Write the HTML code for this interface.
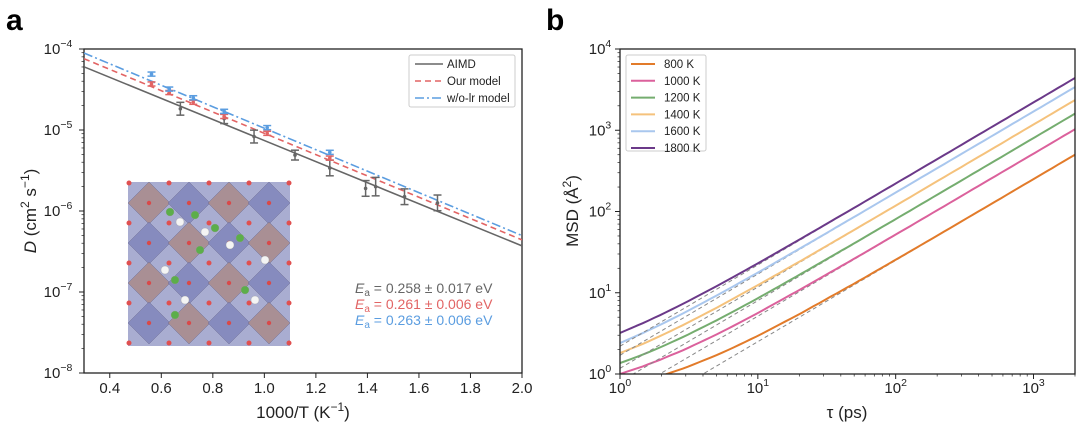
<!DOCTYPE html>
<html><head><meta charset="utf-8"><style>
body{margin:0;background:#fff;width:1080px;height:426px;overflow:hidden;font-family:"Liberation Sans",Arial,sans-serif}
svg text{font-family:"Liberation Sans",Arial,sans-serif}
</style></head><body>
<svg id="fig" width="1080" height="426" viewBox="0 0 1080 426" xmlns="http://www.w3.org/2000/svg">
<text x="6" y="30" font-size="30" font-weight="bold">a</text>
<text x="546" y="30" font-size="30" font-weight="bold">b</text>
<g id="pa"></g>
<g id="pb"></g>
</svg>
<script>
// ---------- Panel a data ----------
const aimdX=[0.674,0.844,0.96,1.119,1.254,1.393,1.432,1.544,1.672];
const aimdD=[1.83e-5,1.38e-5,8.3e-6,4.9e-6,3.4e-6,1.9e-6,2.0e-6,1.5e-6,1.26e-6];
const aimdErr=[0.2,0.15,0.2,0.15,0.25,0.25,0.3,0.25,0.25];
const modelX=[0.562,0.631,0.724,0.844,1.011,1.254];
const ourD=[3.7e-5,2.9e-5,2.2e-5,1.47e-5,9.1e-6,4.5e-6];
const wolrD=[4.9e-5,3.2e-5,2.5e-5,1.7e-5,1.07e-5,5.3e-6];
const fitNames=['AIMD','Our model','w/o-lr model'];
const fitLogD03=[-4.22,-4.12,-4.05];
const fitEa=[0.258,0.261,0.263];
const xTicksA=[0.4,0.6,0.8,1.0,1.2,1.4,1.6,1.8,2.0];
const yTicksA=[-8,-7,-6,-5,-4];
// ---------- Panel b data ----------
const tau=[1,1.5,2,3,5,7,10,20,50,100,200,500,1000,2000];
const tempLabels=['800 K','1000 K','1200 K','1400 K','1600 K','1800 K'];
const msd800=[0.70,0.83,0.95,1.20,1.70,2.20,2.95,5.45,12.95,25.45,50.45,125.45,250.45,500.45];
const msd1000=[1.00,1.26,1.52,2.03,3.06,4.09,5.64,10.8,26.2,52.0,103.5,258,515,1030];
const msd1200=[1.36,1.76,2.16,2.96,4.56,6.16,8.56,16.6,40.6,80.6,160.6,401,801,1601];
const msd1400=[1.81,2.39,2.98,4.16,6.5,8.9,12.4,24.1,59.4,118,236,588,1176,2351];
const msd1600=[2.4,3.25,4.1,5.8,9.2,12.6,17.7,34.7,85.7,171,341,851,1701,3401];
const msd1800=[3.2,4.3,5.4,7.6,12,16.4,23,45,111,221,441,1101,2201,4401];
const fitSlope=[0.25,0.515,0.8,1.175,1.7,2.2];
const xTicksB=[0,1,2,3];
const yTicksB=[0,1,2,3,4];

const NS='http://www.w3.org/2000/svg';
function mk(p,tag,attrs){const e=document.createElementNS(NS,tag);for(const k in attrs)e.setAttribute(k,attrs[k]);p.appendChild(e);return e;}
function pow(p,x,y,base,exp,anchor,fs){const t=mk(p,'text',{x:x,y:y,'font-size':fs,'text-anchor':anchor,fill:'#222'});t.textContent=base;const s=mk(t,'tspan',{dy:-7,'font-size':fs*0.7});s.textContent=exp;return t;}

// ---------- Panel a ----------
const pa=document.getElementById('pa');
const AL=84,AR=522,AT=49,AB=373;
const ax=v=>AL+(v-0.3)/(2.0-0.3)*(AR-AL);
const ay=d=>AB-(Math.log10(d)+8)/4*(AB-AT);
const ayl=l=>AB-(l+8)/4*(AB-AT);
// inset crystal
const ins=mk(pa,'g',{});


mk(ins,'rect',{x:128,y:182,width:162,height:164,fill:'#9498c6',opacity:0.8});
for(let r=0;r<4;r++)for(let c=0;c<4;c++){const cx=149+c*40,cy=203+r*40;const brown=(r+c)%2===0;
mk(ins,'polygon',{points:`${cx},${cy-21} ${cx+21},${cy} ${cx},${cy+21} ${cx-21},${cy}`,fill:brown?'#a98c8e':'#8388bd',stroke:'#6a6a90','stroke-width':0.5,opacity:0.9});}
for(let r=0;r<5;r++)for(let c=0;c<5;c++){mk(ins,'circle',{cx:129+c*40,cy:183+r*40,r:2.5,fill:'#e05050'});}
for(let r=0;r<4;r++)for(let c=0;c<4;c++){mk(ins,'circle',{cx:149+c*40,cy:203+r*40,r:2.2,fill:'#d84a4a'});}
[[170,212],[180,222],[195,215],[205,232],[215,228],[230,245],[240,238],[165,270],[175,280],[185,300],[245,290],[255,300],[175,315],[265,260],[200,250]].forEach((p,i)=>{mk(ins,'circle',{cx:p[0],cy:p[1],r:4,fill:i%2?'#f4f4f4':'#5cae4a',stroke:'#999','stroke-width':0.3});});
// frame
mk(pa,'rect',{x:AL,y:AT,width:AR-AL,height:AB-AT,fill:'none',stroke:'#222','stroke-width':1.3});
yTicksA.forEach(e=>{const y=ayl(e);mk(pa,'line',{x1:AL-5,x2:AL,y1:y,y2:y,stroke:'#222'});pow(pa,AL-26,y+5,'10','−'+(-e),'middle',15);
if(e<-4)for(let m=2;m<10;m++){const yy=ayl(e+Math.log10(m));mk(pa,'line',{x1:AL-2.5,x2:AL,y1:yy,y2:yy,stroke:'#222','stroke-width':0.7});}});
xTicksA.forEach(v=>{const x=ax(v);mk(pa,'line',{x1:x,x2:x,y1:AB,y2:AB+5,stroke:'#222'});const t=mk(pa,'text',{x:x,y:393,'font-size':15,'text-anchor':'middle',fill:'#222'});t.textContent=v.toFixed(1);});
const xtA=mk(pa,'text',{x:303,y:418,'font-size':17,'text-anchor':'middle',fill:'#222'});xtA.textContent='1000/T (K';const s1=mk(xtA,'tspan',{dy:-7,'font-size':12});s1.textContent='−1';const s2=mk(xtA,'tspan',{dy:7});s2.textContent=')';

const ytA=mk(pa,'text',{x:0,y:0,'font-size':17,'text-anchor':'middle',fill:'#222',transform:'translate(36,211) rotate(-90)'});

const tD=mk(ytA,'tspan',{'font-style':'italic'});tD.textContent='D';const tr=mk(ytA,'tspan',{});tr.textContent=' (cm';const t2=mk(ytA,'tspan',{dy:-7,'font-size':12});t2.textContent='2';const t3=mk(ytA,'tspan',{dy:7});t3.textContent=' s';const t4=mk(ytA,'tspan',{dy:-7,'font-size':12});t4.textContent='−1';const t5=mk(ytA,'tspan',{dy:7});t5.textContent=')';
const fitCol=['#666','#e26464','#5b9de0'];const fitDash=['none','6,4','9,3,2,3'];
const clipA=mk(pa,'clipPath',{id:'ca'});mk(clipA,'rect',{x:AL,y:AT,width:AR-AL,height:AB-AT});
fitLogD03.forEach((l0,i)=>{const slope=fitEa[i]/(8.617e-5*1000*Math.LN10);const l1=l0-slope*(2.0-0.3);
const ln=mk(pa,'line',{x1:ax(0.3),y1:ayl(l0),x2:ax(2.0),y2:ayl(l1),stroke:fitCol[i],'stroke-width':1.6,'stroke-dasharray':fitDash[i],'clip-path':'url(#ca)'});

});
function errPts(xs,ds,errs,col,name){xs.forEach((x,i)=>{const g=mk(pa,'g',{});


const e=errs?errs[i]:0.06;const X=ax(x),y1=ay(ds[i]*(1+e)),y2=ay(ds[i]/(1+e));
mk(g,'line',{x1:X,x2:X,y1:y1,y2:y2,stroke:col,'stroke-width':1.5});mk(g,'line',{x1:X-4,x2:X+4,y1:y1,y2:y1,stroke:col,'stroke-width':1.5});mk(g,'line',{x1:X-4,x2:X+4,y1:y2,y2:y2,stroke:col,'stroke-width':1.5});mk(g,'circle',{cx:X,cy:ay(ds[i]),r:1.8,fill:col});});}
errPts(aimdX,aimdD,aimdErr,'#666','aimd-point');
errPts(modelX,ourD,null,'#e26464','our-model-point');
errPts(modelX,wolrD,null,'#5b9de0','wolr-model-point');
const lgA=mk(pa,'g',{});


mk(lgA,'rect',{x:409,y:55,width:106,height:52,fill:'#fff',stroke:'#ccc',rx:2});
fitNames.forEach((n,i)=>{const y=64+i*17;mk(lgA,'line',{x1:415,x2:443,y1:y,y2:y,stroke:fitCol[i],'stroke-width':1.6,'stroke-dasharray':fitDash[i]});const t=mk(lgA,'text',{x:447,y:y+4,'font-size':11.5,fill:'#222'});t.textContent=n;});
const eaTxt=['= 0.258 ± 0.017 eV','= 0.261 ± 0.006 eV','= 0.263 ± 0.006 eV'];
eaTxt.forEach((s,i)=>{const t=mk(pa,'text',{x:355,y:293+i*16,'font-size':14,fill:fitCol[i]});

const e=mk(t,'tspan',{'font-style':'italic'});e.textContent='E';const sb=mk(t,'tspan',{dy:3,'font-size':10});sb.textContent='a';const r=mk(t,'tspan',{dy:-3});r.textContent=' '+s;});

// ---------- Panel b ----------
const pb=document.getElementById('pb');
const BL=620,BR=1075,BT=49,BB=374;
const bx=t=>BL+Math.log10(t)/Math.log10(2000)*(BR-BL);
const by=m=>BB-Math.log10(m)/4*(BB-BT);
const clipB=mk(pb,'clipPath',{id:'cb'});mk(clipB,'rect',{x:BL,y:BT,width:BR-BL,height:BB-BT});
const series=[msd800,msd1000,msd1200,msd1400,msd1600,msd1800];
const cols=['#e27b2a','#db619c','#75ad6f','#f5c27c','#a9c7ee','#6b3989'];
series.forEach((s,i)=>{
const dl=mk(pb,'line',{x1:bx(1),y1:by(fitSlope[i]*1),x2:bx(2000),y2:by(fitSlope[i]*2000),stroke:'#888','stroke-width':1,'stroke-dasharray':'4,3','clip-path':'url(#cb)'});

let d='';const N=80;for(let k=0;k<=N;k++){const lt=k/N*Math.log10(2000);const t=Math.pow(10,lt);
let j=0;while(j<tau.length-2&&tau[j+1]<t)j++;const f=(Math.log(t)-Math.log(tau[j]))/(Math.log(tau[j+1])-Math.log(tau[j]));const lm=Math.log10(s[j])+f*(Math.log10(s[j+1])-Math.log10(s[j]));
d+=(k?'L':'M')+bx(t).toFixed(1)+','+by(Math.pow(10,lm)).toFixed(1);}
const p=mk(pb,'path',{d:d,fill:'none',stroke:cols[i],'stroke-width':2,'clip-path':'url(#cb)'});

});
mk(pb,'rect',{x:BL,y:BT,width:BR-BL,height:BB-BT,fill:'none',stroke:'#222','stroke-width':1.3});
yTicksB.forEach(e=>{const y=by(Math.pow(10,e));mk(pb,'line',{x1:BL-5,x2:BL,y1:y,y2:y,stroke:'#222'});pow(pb,BL-20,y+5,'10',String(e),'middle',15);
if(e<4)for(let m=2;m<10;m++){const yy=by(m*Math.pow(10,e));mk(pb,'line',{x1:BL-2.5,x2:BL,y1:yy,y2:yy,stroke:'#222','stroke-width':0.7});}});
xTicksB.forEach(e=>{const x=bx(Math.pow(10,e));mk(pb,'line',{x1:x,x2:x,y1:BB,y2:BB+5,stroke:'#222'});pow(pb,x,393,'10',String(e),'middle',15);
for(let m=2;m<10;m++){const v=m*Math.pow(10,e);if(v<=2000){const xx=bx(v);mk(pb,'line',{x1:xx,x2:xx,y1:BB,y2:BB+2.5,stroke:'#222','stroke-width':0.7});}}});
const xtB=mk(pb,'text',{x:847,y:418,'font-size':17,'text-anchor':'middle',fill:'#222'});xtB.textContent='τ (ps)';

const ytB=mk(pb,'text',{x:0,y:0,'font-size':17,'text-anchor':'middle',fill:'#222',transform:'translate(578,211) rotate(-90)'});

const m1=mk(ytB,'tspan',{});m1.textContent='MSD (Å';const m2=mk(ytB,'tspan',{dy:-7,'font-size':12});m2.textContent='2';const m3=mk(ytB,'tspan',{dy:7});m3.textContent=')';
const lgB=mk(pb,'g',{});


mk(lgB,'rect',{x:626,y:55,width:80,height:96,fill:'#fff',stroke:'#ccc',rx:2});
tempLabels.forEach((n,i)=>{const y=64+i*16.8;mk(lgB,'line',{x1:631,x2:655,y1:y,y2:y,stroke:cols[i],'stroke-width':2});const t=mk(lgB,'text',{x:664,y:y+4,'font-size':11.5,fill:'#222'});t.textContent=n;});
</script>
</body></html>
